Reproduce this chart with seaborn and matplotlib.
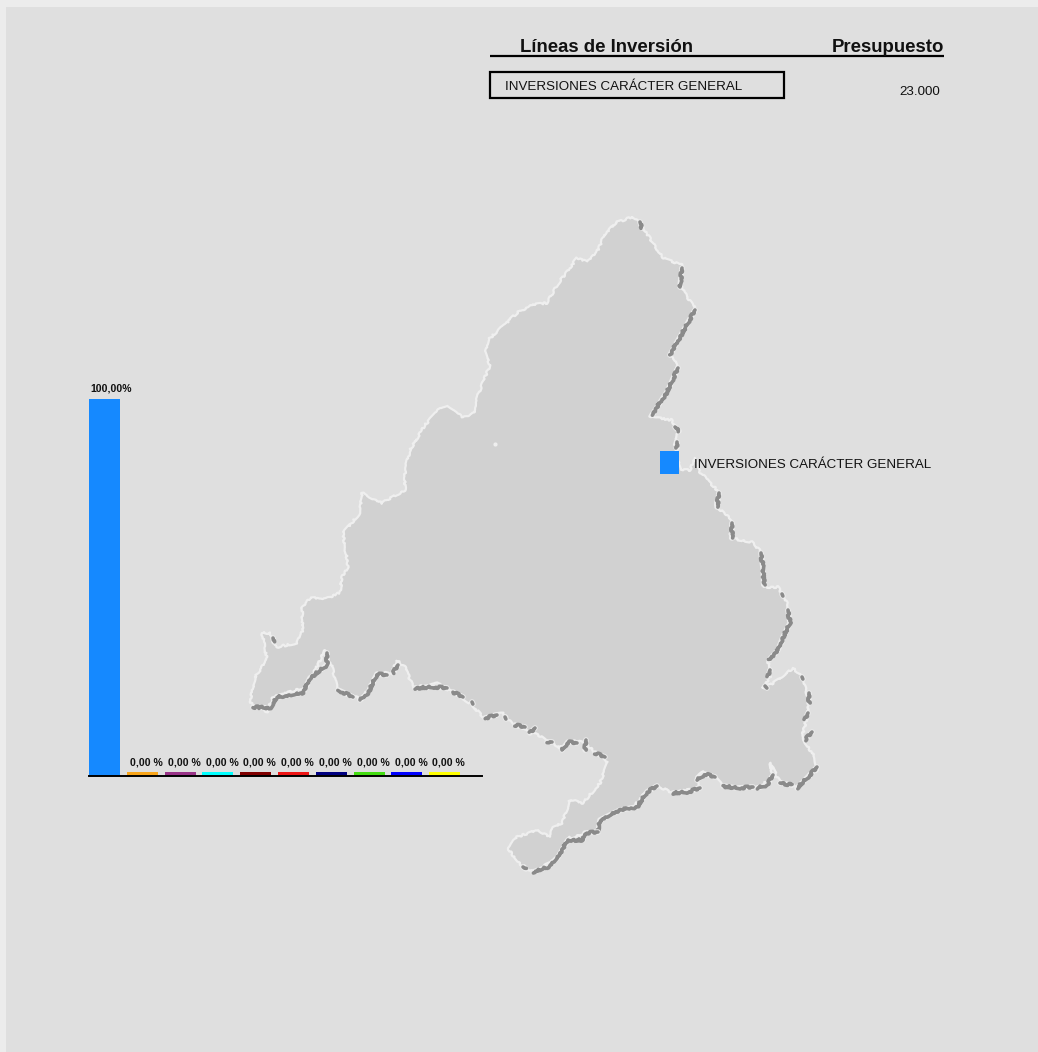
import matplotlib
matplotlib.use('Agg')
import matplotlib.pyplot as plt
from matplotlib.patches import Polygon, Rectangle
import pandas as pd
import seaborn as sns

categories = ['INVERSIONES CARÁCTER GENERAL', 'L2', 'L3', 'L4', 'L5', 'L6', 'L7', 'L8', 'L9', 'L10']
bar_heights = [100, 1.0, 1.0, 1.0, 1.0, 1.0, 1.0, 1.0, 1.0, 1.0]
bar_labels = ['100,00%'] + ['0,00 %'] * 9
bar_colors = ['#1589ff', '#f9a51a', '#993388', '#00ffff', '#800000', '#ee1515', '#000080', '#44dd11', '#0000ff', '#ffff00']

line_name = 'INVERSIONES CARÁCTER GENERAL'
budget = '23.000'

# outline of the region, in picture pixels
region_x = [632, 640, 653, 663, 682, 680, 688, 695, 685, 670, 678, 667, 650, 672, 678, 675, 680, 690, 695, 700, 720, 715, 732, 730, 752, 762, 763, 778, 787, 790, 780, 768, 770, 763, 773, 793, 802, 808, 808, 802, 815, 817, 797, 780, 770, 773, 757, 723, 713, 703, 697, 698, 673, 655, 643, 635, 600, 598, 568, 558, 533, 517, 508, 517, 538, 550, 553, 562, 570, 583, 600, 608, 595, 585, 570, 560, 550, 532, 513, 503, 483, 470, 437, 413, 405, 397, 392, 377, 362, 337, 332, 325, 307, 273, 267, 250, 255, 267, 262, 270, 277, 297, 303, 302, 310, 330, 340, 342, 348, 343, 360, 362, 382, 405, 405, 410, 425, 440, 447, 462, 475, 475, 490, 485, 488, 518, 532, 547, 557, 577, 587, 597, 603, 615]
region_y = [217, 223, 243, 258, 265, 285, 298, 308, 328, 355, 365, 392, 417, 420, 432, 445, 470, 470, 458, 472, 493, 505, 520, 538, 542, 553, 587, 587, 603, 623, 650, 660, 677, 688, 683, 668, 677, 697, 713, 737, 758, 770, 788, 782, 763, 777, 788, 786, 775, 772, 777, 788, 793, 785, 795, 805, 820, 832, 838, 858, 872, 862, 848, 837, 830, 837, 827, 823, 800, 803, 783, 762, 753, 742, 740, 748, 742, 732, 725, 713, 717, 703, 683, 687, 667, 660, 673, 673, 700, 688, 667, 650, 687, 697, 712, 703, 677, 660, 633, 633, 647, 643, 630, 608, 598, 598, 592, 577, 567, 533, 513, 493, 503, 490, 470, 450, 425, 408, 405, 417, 413, 402, 365, 352, 340, 312, 305, 303, 285, 258, 262, 252, 238, 223]

# dark relief along the south and east edges
relief_lines = [
    [(640, 222), (642, 228)],
    [(682, 268), (680, 287)],
    [(695, 310), (685, 328), (670, 355)],
    [(678, 368), (667, 392), (652, 415)],
    [(675, 427), (679, 431)],
    [(677, 442), (677, 448)],
    [(719, 493), (717, 507)],
    [(732, 523), (732, 538)],
    [(761, 553), (763, 568), (764, 585)],
    [(782, 594), (783, 596)],
    [(788, 610), (790, 623), (783, 637), (778, 650), (769, 660)],
    [(770, 670), (768, 677)],
    [(765, 686), (767, 688)],
    [(802, 677), (803, 679)],
    [(809, 693), (809, 703)],
    [(808, 713), (805, 720)],
    [(812, 732), (805, 740)],
    [(817, 767), (808, 777), (797, 788)],
    [(780, 783), (792, 785)],
    [(773, 775), (767, 785), (757, 788)],
    [(753, 787), (737, 788), (723, 786)],
    [(715, 777), (705, 774), (697, 780)],
    [(700, 788), (688, 792), (673, 793)],
    [(657, 786), (647, 792), (637, 807), (620, 810), (600, 820), (598, 832)],
    [(598, 832), (585, 833), (583, 840), (568, 840), (558, 857), (548, 867), (533, 872)],
    [(523, 867), (526, 869)],
    [(605, 757), (595, 753)],
    [(586, 740), (585, 750)],
    [(577, 743), (568, 742), (562, 750)],
    [(552, 742), (547, 742)],
    [(535, 728), (530, 733)],
    [(525, 727), (515, 725)],
    [(505, 717), (506, 719)],
    [(497, 715), (485, 718)],
    [(472, 702), (473, 704)],
    [(463, 697), (453, 692)],
    [(447, 688), (435, 687), (415, 688)],
    [(398, 665), (393, 673)],
    [(387, 675), (377, 674), (368, 693), (360, 700)],
    [(353, 697), (338, 690)],
    [(327, 653), (327, 665), (310, 678), (303, 693), (277, 697), (270, 708), (253, 707)],
    [(273, 638), (274, 642)],
]

W, H = 1038, 1052
plt.rcParams['font.family'] = ['Liberation Sans', 'DejaVu Sans']

fig = plt.figure(figsize=(W / 100, H / 100), dpi=100, facecolor='#ececec')

# page axes in pixel coordinates
page = fig.add_axes([0, 0, 1, 1])
page.set_xlim(0, W)
page.set_ylim(H, 0)
page.axis('off')
page.add_patch(Rectangle((6, 7), W - 6, H - 7, facecolor='#dfdfdf', edgecolor='none'))

# rough edges instead of the straight segments
shape = Polygon(list(zip(region_x, region_y)), closed=True, facecolor='#d1d1d1',
                edgecolor='#efefef', linewidth=1.6, joinstyle='round')
shape.set_sketch_params(scale=1.0, length=14, randomness=20)
page.add_patch(shape)
for seg in relief_lines:
    xs = [p[0] for p in seg]
    ys = [p[1] for p in seg]
    page.plot(xs, ys, color='#ececec', lw=4, solid_capstyle='round', solid_joinstyle='round')
    line, = page.plot(xs, ys, color='#8a8a8a', lw=2.6, solid_capstyle='round', solid_joinstyle='round')
    line.set_sketch_params(scale=1.2, length=8, randomness=20)
page.plot([495], [444], marker='o', ms=2, color='#efefef')

# table on top
page.text(520, 47.5, 'Líneas de Inversión', fontsize=13.4, fontweight='bold', va='center', ha='left', color='#111111')
page.text(944, 47.5, 'Presupuesto', fontsize=13.4, fontweight='bold', va='center', ha='right', color='#111111')
page.plot([490, 944], [56, 56], color='black', lw=1.6, solid_capstyle='butt')
page.add_patch(Rectangle((490, 72), 294, 26, facecolor='none', edgecolor='black', linewidth=1.6))
page.text(505, 87, line_name, fontsize=9.6, va='center', ha='left', color='#111111')
page.text(940, 92, budget, fontsize=9.6, va='center', ha='right', color='#111111')

# key on the map
page.add_patch(Rectangle((660, 451), 19, 23, facecolor=bar_colors[0], edgecolor='none'))
page.text(694, 465, line_name, fontsize=9.6, va='center', ha='left', color='#111111')

# bars
ax = fig.add_axes([89 / W, 1 - 776 / H, (482 - 89) / W, (776 - 399) / H])
ax.patch.set_alpha(0)
df = pd.DataFrame({'linea': categories, 'pct': bar_heights})
sns.barplot(data=df, x='linea', y='pct', hue='linea', palette=bar_colors, dodge=False,
            width=0.82, saturation=1, legend=False, ax=ax)
ax.set_xlim(-0.41, 9.985)
ax.set_ylim(0, 100)
ax.set_xlabel('')
ax.set_ylabel('')
ax.set_xticks([])
ax.set_yticks([])
for name in ['top', 'left', 'right']:
    ax.spines[name].set_visible(False)
ax.spines['bottom'].set_linewidth(1.4)
ax.spines['bottom'].set_color('black')
for i, (val, lab) in enumerate(zip(bar_heights, bar_labels)):
    ax.annotate(lab, (i, val), xytext=(2.9 if i else 4.5, 3.1 if i else 3.8), textcoords='offset points',
                ha='center', va='bottom', fontsize=7.6, fontweight='bold', color='#111111',
                annotation_clip=False)

fig.savefig('out.png', dpi=100, facecolor=fig.get_facecolor())
